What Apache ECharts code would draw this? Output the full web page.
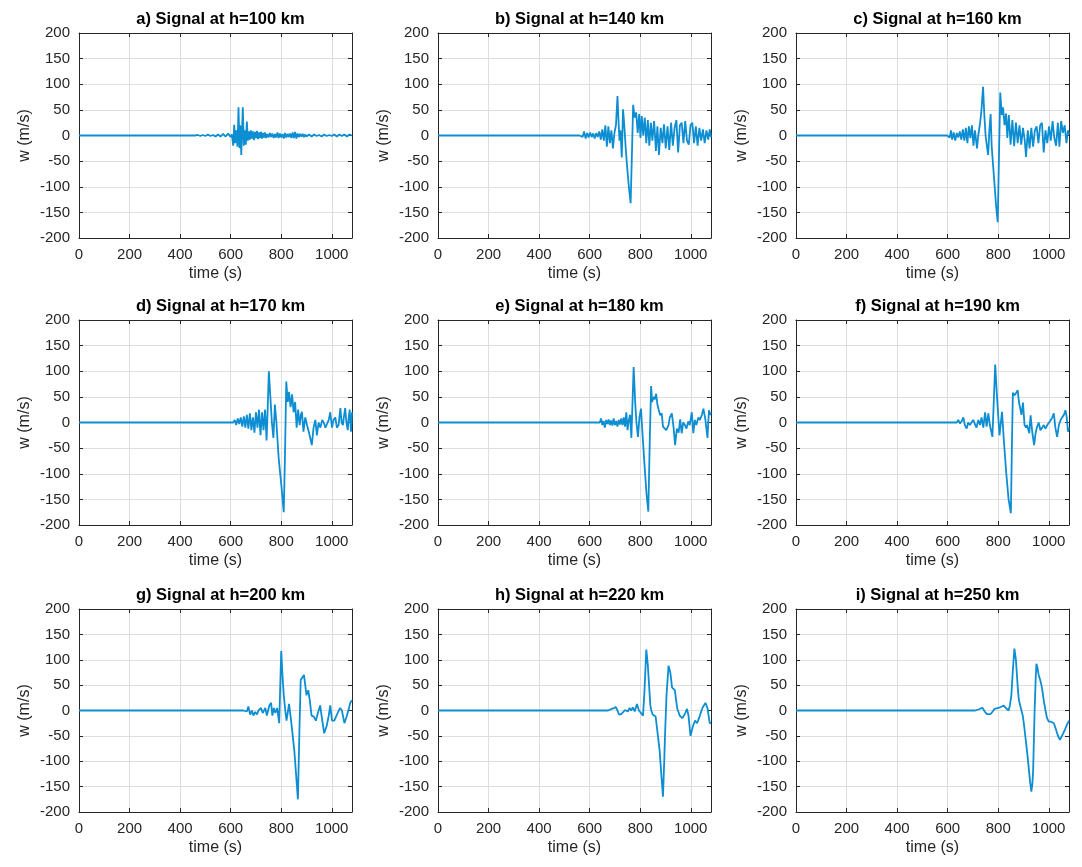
<!DOCTYPE html>
<html>
<head>
<meta charset="utf-8">
<script src="https://cdn.jsdelivr.net/npm/echarts@6/dist/echarts.min.js"></script>
<style>
html,body{margin:0;padding:0;background:#fff;}
#chart{width:1082px;height:867px;}
</style>
</head>
<body>
<div id="chart"></div>
<script>
const titles = [
  'a) Signal at h=100 km','b) Signal at h=140 km','c) Signal at h=160 km',
  'd) Signal at h=170 km','e) Signal at h=180 km','f) Signal at h=190 km',
  'g) Signal at h=200 km','h) Signal at h=220 km','i) Signal at h=250 km'
];
const xLabel = 'time (s)';
const yLabel = 'w (m/s)';

const sigA = [[0,0],[460,0],[470,1],[480,-1],[490,1],[500,-1],[510,2],[520,-1],[530,1],[540,-2],[550,2],[560,-2],[570,3],[580,-2],[590,4],[600,-3],[605,2],[610,-20],[614,21],[618,-15],[622,10],[627,-22],[631,55],[635,-25],[638,20],[642,-38],[648,55],[652,-20],[656,10],[660,-18],[664,27],[668,-10],[672,8],[676,-8],[680,10],[684,-6],[688,8],[692,-9],[696,7],[700,-5],[704,9],[708,-7],[712,6],[716,-5],[720,7],[724,-6],[728,5],[732,-4],[736,6],[740,-5],[745,3],[750,-4],[755,5],[760,-3],[765,4],[770,-5],[775,3],[780,-4],[785,6],[790,-5],[795,4],[800,-4],[805,3],[810,-6],[815,5],[820,-4],[825,3],[830,-3],[835,4],[840,-5],[845,6],[850,-5],[855,7],[860,-6],[865,4],[870,-3],[875,3],[880,-2],[885,3],[890,-3],[895,2],[900,-2],[910,2],[920,-2],[930,2],[940,-1],[950,1],[960,-2],[970,2],[980,-1],[990,1],[1000,-1],[1010,2],[1020,-2],[1030,2],[1040,-1],[1050,2],[1060,-2],[1070,2],[1080,0]];

const sigB = [[0,0],[560,0],[566,2],[572,-3],[578,8],[584,-6],[590,5],[596,-4],[602,6],[608,-3],[614,4],[620,-6],[626,5],[632,-3],[638,8],[644,-8],[650,12],[656,-10],[662,20],[668,-22],[674,18],[680,-15],[686,10],[692,-25],[698,5],[704,20],[710,77],[714,30],[718,-10],[722,10],[727,-43],[732,51],[737,20],[742,-20],[748,-60],[755,-100],[762,-132],[767,-40],[772,60],[778,35],[784,45],[790,5],[796,42],[801,-5],[806,38],[812,0],[818,35],[824,-15],[830,30],[836,-20],[842,25],[848,-10],[855,28],[862,-30],[868,18],[874,-38],[881,15],[888,-15],[894,22],[901,-25],[908,18],[915,-28],[922,25],[929,-20],[936,15],[943,30],[950,-33],[957,20],[964,25],[971,-15],[978,28],[985,-10],[992,-18],[999,20],[1006,25],[1013,-15],[1020,18],[1027,-20],[1034,15],[1041,-10],[1048,12],[1055,-15],[1062,10],[1069,-8],[1075,12],[1080,-3]];

const sigC = [[0,0],[598,0],[603,3],[608,-4],[613,10],[618,-8],[624,6],[630,-10],[636,5],[642,-4],[648,8],[654,-8],[660,12],[666,-10],[672,15],[678,-15],[684,18],[690,-5],[696,20],[702,-20],[708,10],[716,-25],[721,0],[727,20],[733,45],[740,95],[745,40],[750,0],[755,-20],[760,-38],[765,10],[770,42],[774,-20],[780,-60],[786,-100],[792,-140],[798,-169],[803,-40],[808,84],[814,40],[819,55],[825,20],[831,43],[836,-5],[842,40],[849,-18],[856,30],[863,-21],[870,25],[877,-15],[884,20],[891,-18],[898,15],[905,-10],[910,-42],[917,10],[924,-25],[931,15],[938,-22],[945,10],[952,18],[959,-15],[966,20],[973,25],[980,-33],[987,10],[994,-15],[1001,18],[1008,-10],[1015,28],[1022,-5],[1029,-20],[1036,25],[1042,-22],[1049,28],[1056,5],[1063,20],[1070,-15],[1076,10],[1080,2]];

const sigD = [[0,0],[610,0],[616,5],[622,-5],[628,8],[634,-3],[640,10],[646,-8],[652,12],[658,-10],[664,15],[670,-12],[676,18],[682,-15],[688,10],[694,-20],[700,20],[706,-10],[712,25],[718,-25],[724,20],[730,-15],[736,25],[742,-35],[746,20],[751,100],[757,50],[763,0],[769,-30],[775,35],[781,0],[790,-70],[800,-120],[810,-175],[815,-60],[820,80],[826,40],[831,60],[837,30],[843,55],[849,20],[855,40],[861,-10],[867,25],[873,-5],[878,15],[882,21],[888,-18],[895,10],[902,-5],[910,-20],[921,-44],[928,-10],[935,5],[941,-25],[948,0],[955,-10],[962,5],[968,0],[975,-10],[981,-10],[988,5],[994,20],[1001,-10],[1007,5],[1014,10],[1020,-10],[1027,-5],[1034,28],[1039,0],[1044,-5],[1049,15],[1053,28],[1058,0],[1063,-15],[1067,10],[1071,25],[1076,-18],[1080,20]];

const sigE = [[0,0],[640,0],[645,8],[650,-5],[655,3],[660,-10],[665,5],[670,-3],[675,6],[680,-5],[685,4],[690,-6],[695,8],[700,-5],[705,3],[710,-8],[715,5],[720,-4],[725,8],[730,-5],[735,10],[740,-8],[745,20],[750,-15],[755,5],[760,15],[765,-30],[774,108],[780,40],[785,0],[791,-28],[797,10],[803,27],[810,-30],[818,-90],[825,-140],[832,-174],[838,-30],[843,71],[847,40],[852,50],[857,45],[863,56],[868,35],[873,25],[879,14],[885,18],[890,-8],[896,-5],[903,-15],[912,-5],[917,10],[925,18],[932,-10],[938,-44],[945,-12],[952,-20],[958,6],[964,-21],[970,0],[977,-5],[983,-12],[990,2],[996,-5],[1004,20],[1010,-21],[1016,5],[1022,-5],[1030,10],[1036,5],[1044,15],[1050,27],[1058,5],[1066,-30],[1072,24],[1076,15],[1080,20]];

const sigF = [[0,0],[636,0],[642,5],[649,-2],[656,3],[662,10],[668,-5],[675,-12],[681,0],[688,-5],[694,-8],[701,5],[708,-3],[714,-10],[721,5],[728,-5],[734,10],[741,-10],[748,20],[754,-8],[761,18],[767,-5],[777,-28],[788,113],[794,60],[799,20],[805,-25],[815,21],[823,-40],[832,-100],[841,-150],[850,-177],[855,-20],[858,58],[865,53],[872,50],[877,63],[882,40],[888,37],[892,15],[898,39],[904,-5],[910,-10],[914,-5],[918,-12],[923,-21],[928,14],[935,-20],[942,-44],[948,-20],[953,-10],[960,0],[967,-15],[974,-10],[980,-5],[987,-12],[994,-5],[1001,0],[1008,5],[1014,10],[1020,18],[1026,-10],[1033,-28],[1040,-5],[1047,5],[1053,10],[1060,15],[1066,24],[1071,10],[1076,-18],[1080,-10]];

const sigG = [[0,0],[651,0],[657,3],[664,-2],[670,8],[677,-8],[684,0],[690,-10],[697,-3],[704,-8],[710,0],[720,5],[727,-5],[737,5],[743,-10],[753,10],[760,15],[765,-10],[771,5],[777,-5],[784,5],[792,-25],[800,117],[805,70],[810,30],[816,0],[821,-20],[831,13],[839,-20],[852,-80],[866,-175],[872,-40],[877,60],[884,63],[890,70],[895,50],[900,30],[907,40],[913,20],[920,-10],[929,-12],[937,-20],[945,-5],[954,10],[961,-15],[970,-45],[980,-30],[988,-10],[994,10],[1001,-20],[1010,-20],[1023,-5],[1033,5],[1040,0],[1050,-25],[1060,-10],[1068,5],[1073,15],[1080,20]];

const sigH = [[0,0],[673,0],[680,1],[686,3],[694,4],[703,7],[710,0],[716,-8],[725,-7],[732,-5],[740,1],[745,3],[751,-2],[758,5],[764,0],[771,6],[778,-2],[787,13],[795,0],[802,3],[811,-10],[817,40],[824,120],[830,90],[835,50],[840,10],[844,0],[849,-8],[853,-10],[861,-12],[870,-50],[877,-80],[884,-130],[890,-170],[895,-100],[898,-50],[904,30],[912,88],[919,75],[926,45],[932,42],[937,40],[946,5],[956,-10],[966,-15],[973,-10],[978,-5],[985,3],[991,-10],[999,-50],[1009,-30],[1017,-20],[1025,-25],[1036,-10],[1046,5],[1058,15],[1066,5],[1075,-25],[1080,-25]];

const sigI = [[0,0],[709,0],[715,1],[722,2],[730,4],[738,5],[748,-3],[755,-7],[762,-10],[770,-7],[778,-2],[785,3],[793,4],[801,5],[810,7],[821,10],[830,5],[836,2],[841,0],[846,10],[852,30],[858,80],[864,122],[870,100],[874,70],[878,40],[882,20],[887,10],[892,0],[897,-10],[902,-28],[907,-50],[914,-80],[920,-110],[926,-140],[931,-160],[935,-145],[938,-120],[941,-60],[944,0],[948,60],[951,92],[955,85],[960,70],[966,60],[971,50],[976,35],[980,20],[987,0],[993,-15],[1000,-22],[1004,-25],[1009,-22],[1013,-20],[1020,-25],[1027,-35],[1033,-45],[1039,-53],[1044,-58],[1050,-52],[1057,-45],[1066,-35],[1072,-28],[1080,-20]];

const signals = [sigA, sigB, sigC, sigD, sigE, sigF, sigG, sigH, sigI];

const X_MIN = 0, X_MAX = 1080, X_STEP = 200;
const Y_MIN = -200, Y_MAX = 200, Y_STEP = 50;

const colLeft = [79, 438, 796];
const rowTop = [33, 320, 609];
const W = 273, H = [205, 205, 203];
const FONT = '"Liberation Sans", Arial, Helvetica, sans-serif';
const LINE = '#0d8ed3';
const AX = '#262626';

const grid = [], xAxis = [], yAxis = [], series = [], title = [];
for (let k = 0; k < 9; k++) {
  const r = Math.floor(k / 3), c = k % 3;
  grid.push({left: colLeft[c], top: rowTop[r], width: W, height: H[r], containLabel: false});
  title.push({
    text: titles[k], left: colLeft[c] + W / 2, top: rowTop[r] - 27, textAlign: 'center',
    textStyle: {fontFamily: FONT, fontSize: 16.5, fontWeight: 'bold', color: '#000'}
  });
  const common = {
    type: 'value', gridIndex: k, min: X_MIN, max: X_MAX, interval: X_STEP
  };
  xAxis.push(Object.assign({}, common, {
    position: 'bottom',
    name: xLabel, nameLocation: 'middle', nameGap: 28,
    nameTextStyle: {fontFamily: FONT, fontSize: 16, color: '#262626'},
    axisLine: {show: true, onZero: false, lineStyle: {color: AX, width: 1}},
    axisTick: {show: true, inside: true, length: 4, lineStyle: {color: AX}},
    axisLabel: {fontFamily: FONT, fontSize: 15, color: '#262626', margin: 9, showMaxLabel: false,
      formatter: v => (v % X_STEP === 0 ? String(v) : '')},
    splitLine: {show: true, lineStyle: {color: '#dedede', width: 1}}
  }));
  xAxis.push(Object.assign({}, common, {
    position: 'top',
    axisLine: {show: true, onZero: false, lineStyle: {color: AX, width: 1}},
    axisTick: {show: true, inside: true, length: 4, lineStyle: {color: AX}},
    axisLabel: {show: false},
    splitLine: {show: false}
  }));
  const ycommon = {type: 'value', gridIndex: k, min: Y_MIN, max: Y_MAX, interval: Y_STEP};
  yAxis.push(Object.assign({}, ycommon, {
    position: 'left',
    name: yLabel, nameLocation: 'middle', nameGap: 46,
    nameTextStyle: {fontFamily: FONT, fontSize: 16, color: '#262626'},
    axisLine: {show: true, onZero: false, lineStyle: {color: AX, width: 1}},
    axisTick: {show: true, inside: true, length: 4, lineStyle: {color: AX}},
    axisLabel: {fontFamily: FONT, fontSize: 15, color: '#262626', margin: 9},
    splitLine: {show: true, lineStyle: {color: '#dedede', width: 1}}
  }));
  yAxis.push(Object.assign({}, ycommon, {
    position: 'right',
    axisLine: {show: true, onZero: false, lineStyle: {color: AX, width: 1}},
    axisTick: {show: true, inside: true, length: 4, lineStyle: {color: AX}},
    axisLabel: {show: false},
    splitLine: {show: false}
  }));
  series.push({
    type: 'line', xAxisIndex: 2 * k, yAxisIndex: 2 * k, data: signals[k],
    showSymbol: false, symbol: 'none', smooth: false, clip: true,
    lineStyle: {color: LINE, width: 1.8}, itemStyle: {color: LINE}
  });
}

const chart = echarts.init(document.getElementById('chart'), null, {renderer: 'canvas'});
chart.setOption({
  backgroundColor: '#ffffff',
  animation: false,
  title, grid, xAxis, yAxis, series
});
</script>
</body>
</html>
